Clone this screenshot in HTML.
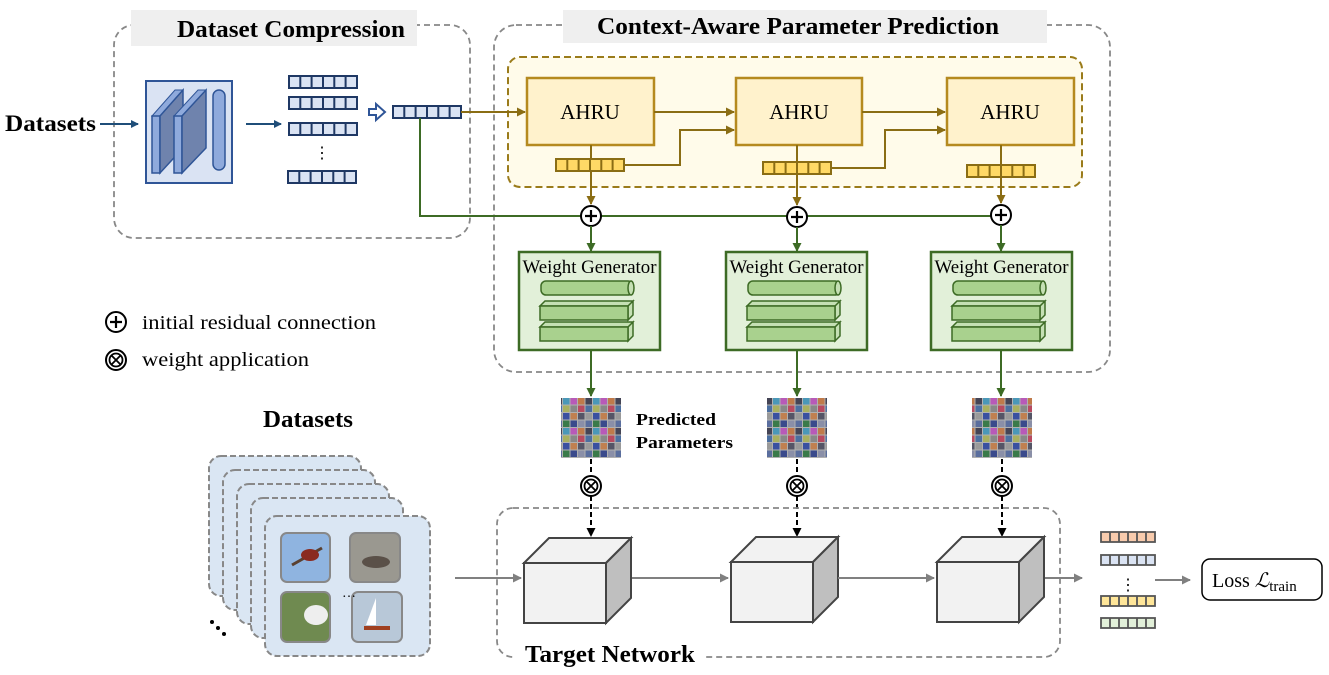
<!DOCTYPE html>
<html><head><meta charset="utf-8"><style>
body{margin:0;background:#fff}
svg{display:block;font-family:"Liberation Serif",serif}
</style></head><body>
<svg width="1329" height="675" viewBox="0 0 1329 675" xmlns="http://www.w3.org/2000/svg">
<defs>
<marker id="aB" markerWidth="8" markerHeight="8" refX="7" refY="4" orient="auto" markerUnits="userSpaceOnUse"><path d="M0,0 L8,4 L0,8 z" fill="#1f4e79"/></marker>
<marker id="aY" markerWidth="9" markerHeight="9" refX="8" refY="4.5" orient="auto" markerUnits="userSpaceOnUse"><path d="M0,0 L9,4.5 L0,9 z" fill="#8a6d14"/></marker>
<marker id="aG" markerWidth="9" markerHeight="9" refX="8" refY="4.5" orient="auto" markerUnits="userSpaceOnUse"><path d="M0,0 L9,4.5 L0,9 z" fill="#3d6b25"/></marker>
<marker id="aK" markerWidth="9" markerHeight="9" refX="8" refY="4.5" orient="auto" markerUnits="userSpaceOnUse"><path d="M0,0 L9,4.5 L0,9 z" fill="#000"/></marker>
<marker id="aGr" markerWidth="9" markerHeight="9" refX="8" refY="4.5" orient="auto" markerUnits="userSpaceOnUse"><path d="M0,0 L9,4.5 L0,9 z" fill="#808080"/></marker>
<pattern id="pp" width="30" height="30" patternUnits="userSpaceOnUse">
<rect width="30" height="30" fill="#b0b0b0"/>
<rect x="0.5" y="0.5" width="6.5" height="6.5" fill="#3a4a8c"/><rect x="8" y="0.5" width="6.5" height="6.5" fill="#8a8fa8"/><rect x="15.5" y="0.5" width="6.5" height="6.5" fill="#5a6e9e"/><rect x="23" y="0.5" width="6.5" height="6.5" fill="#3a7a4a"/>
<rect x="0.5" y="8" width="6.5" height="6.5" fill="#b85ab8"/><rect x="8" y="8" width="6.5" height="6.5" fill="#c07a4a"/><rect x="15.5" y="8" width="6.5" height="6.5" fill="#445"/><rect x="23" y="8" width="6.5" height="6.5" fill="#4a98b8"/>
<rect x="0.5" y="15.5" width="6.5" height="6.5" fill="#888"/><rect x="8" y="15.5" width="6.5" height="6.5" fill="#b84a60"/><rect x="15.5" y="15.5" width="6.5" height="6.5" fill="#4c6fa0"/><rect x="23" y="15.5" width="6.5" height="6.5" fill="#a8b060"/>
<rect x="0.5" y="23" width="6.5" height="6.5" fill="#c08050"/><rect x="8" y="23" width="6.5" height="6.5" fill="#556"/><rect x="15.5" y="23" width="6.5" height="6.5" fill="#9a9a9a"/><rect x="23" y="23" width="6.5" height="6.5" fill="#3a50a0"/>
</pattern>
<g id="vec"><rect x="0" y="0" width="68" height="12" fill="#dae3f3" stroke="#1f3864" stroke-width="2"/><path d="M11.3,0v12M22.6,0v12M34,0v12M45.3,0v12M56.6,0v12" stroke="#1f3864" stroke-width="2"/></g>
<g id="yvec"><rect x="0" y="0" width="68" height="12" fill="#ffd966" stroke="#8a6d14" stroke-width="2"/><path d="M11.3,0v12M22.6,0v12M34,0v12M45.3,0v12M56.6,0v12" stroke="#8a6d14" stroke-width="2"/></g>
<g id="wg">
<rect x="0" y="0" width="141" height="98" fill="#e2f0d9" stroke="#3d6b25" stroke-width="2.5"/>
<text x="70.5" y="21" font-size="18.5" text-anchor="middle" textLength="134" lengthAdjust="spacingAndGlyphs">Weight Generator</text>
<rect x="22" y="29" width="92" height="14" rx="5" fill="#a9d18e" stroke="#3d6b25" stroke-width="1.5"/><ellipse cx="112" cy="36" rx="3" ry="7" fill="#c5e0b4" stroke="#3d6b25" stroke-width="1.5"/>
<path d="M21,54 h88 l5,-5 h-88z M109,54 v14 l5,-5 v-14z" fill="#c5e0b4" stroke="#3d6b25" stroke-width="1.5"/><rect x="21" y="54" width="88" height="14" fill="#a9d18e" stroke="#3d6b25" stroke-width="1.5"/>
<path d="M21,75 h88 l5,-5 h-88z M109,75 v14 l5,-5 v-14z" fill="#c5e0b4" stroke="#3d6b25" stroke-width="1.5"/><rect x="21" y="75" width="88" height="14" fill="#a9d18e" stroke="#3d6b25" stroke-width="1.5"/>
</g>
<g id="cube"><path d="M0,25 L25,0 H107 L82,25z" fill="#f2f2f2" stroke="#444" stroke-width="2"/><path d="M82,25 L107,0 V60 L82,85z" fill="#bfbfbf" stroke="#444" stroke-width="2"/><rect x="0" y="25" width="82" height="60" fill="#f2f2f2" stroke="#444" stroke-width="2"/></g>
<g id="plus"><circle r="10" fill="#fff" stroke="#000" stroke-width="2"/><path d="M-6,0H6M0,-6V6" stroke="#000" stroke-width="2.2"/></g>
<g id="times"><circle r="10" fill="#fff" stroke="#000" stroke-width="2"/><circle r="6.5" fill="none" stroke="#000" stroke-width="1.8"/><path d="M-4.5,-4.5L4.5,4.5M4.5,-4.5L-4.5,4.5" stroke="#000" stroke-width="1.8"/></g>
<g id="ovec"><rect width="54" height="10" fill="var(--c)" stroke="#555" stroke-width="1.8"/><path d="M9,0v10M18,0v10M27,0v10M36,0v10M45,0v10" stroke="#555" stroke-width="1.8"/></g>
</defs>

<!-- Dataset Compression -->
<rect x="114" y="25" width="356" height="213" rx="20" fill="none" stroke="#888" stroke-width="1.8" stroke-dasharray="6,4"/>
<rect x="131" y="10" width="286" height="36" fill="#efefef"/>
<text x="291" y="37" font-size="24" font-weight="bold" text-anchor="middle" textLength="228" lengthAdjust="spacingAndGlyphs">Dataset Compression</text>
<text x="5" y="131" font-size="23" font-weight="bold" textLength="91" lengthAdjust="spacingAndGlyphs">Datasets</text>
<line x1="100" y1="124" x2="138" y2="124" stroke="#1f4e79" stroke-width="2" marker-end="url(#aB)"/>
<rect x="146" y="81" width="86" height="102" fill="#dae3f3" stroke="#2f5597" stroke-width="2"/>
<path d="M152,116 h8 l23,-26 h-8z" fill="#8faadc" stroke="#2f5597"/>
<rect x="152" y="116" width="8" height="57" fill="#8faadc" stroke="#2f5597" stroke-width="1.5"/>
<path d="M160,116 L183,90 V148 L160,173z" fill="#6f83ad" stroke="#2f5597" stroke-width="1.5"/>
<path d="M174,116 h8 l24,-26 h-8z" fill="#8faadc" stroke="#2f5597"/>
<rect x="174" y="116" width="8" height="57" fill="#8faadc" stroke="#2f5597" stroke-width="1.5"/>
<path d="M182,116 L206,90 V148 L182,173z" fill="#6f83ad" stroke="#2f5597" stroke-width="1.5"/>
<rect x="213" y="90" width="12" height="80" rx="6" fill="#8faadc" stroke="#2f5597" stroke-width="1.5"/>
<line x1="246" y1="124" x2="281" y2="124" stroke="#1f4e79" stroke-width="2" marker-end="url(#aB)"/>
<use href="#vec" x="289" y="76"/><use href="#vec" x="289" y="97"/><use href="#vec" x="289" y="123"/>
<text x="322" y="158" font-size="16" text-anchor="middle">⋮</text>
<use href="#vec" x="288" y="171"/>
<path d="M369,109 h7 v-5 l9,8 l-9,8 v-5 h-7z" fill="#fff" stroke="#2f5597" stroke-width="2"/>
<use href="#vec" x="393" y="106"/>

<!-- Context-aware -->
<rect x="494" y="25" width="616" height="347" rx="22" fill="none" stroke="#888" stroke-width="1.8" stroke-dasharray="6,4"/>
<rect x="563" y="10" width="484" height="33" fill="#efefef"/>
<text x="798" y="34" font-size="24" font-weight="bold" text-anchor="middle" textLength="402" lengthAdjust="spacingAndGlyphs">Context-Aware Parameter Prediction</text>
<rect x="508" y="57" width="574" height="130" rx="12" fill="#fffbea" stroke="#9a7b1a" stroke-width="2" stroke-dasharray="7,4"/>
<line x1="461" y1="112" x2="525" y2="112" stroke="#8a6d14" stroke-width="2" marker-end="url(#aY)"/>
<rect x="527" y="78" width="127" height="67" fill="#fff2cc" stroke="#b58a1f" stroke-width="2.5"/>
<rect x="736" y="78" width="126" height="67" fill="#fff2cc" stroke="#b58a1f" stroke-width="2.5"/>
<rect x="947" y="78" width="127" height="67" fill="#fff2cc" stroke="#b58a1f" stroke-width="2.5"/>
<text x="590" y="119" font-size="21" text-anchor="middle">AHRU</text>
<text x="799" y="119" font-size="21" text-anchor="middle">AHRU</text>
<text x="1010" y="119" font-size="21" text-anchor="middle">AHRU</text>
<g stroke="#8a6d14" stroke-width="2" fill="none">
<line x1="654" y1="112" x2="734" y2="112" marker-end="url(#aY)"/>
<line x1="862" y1="112" x2="945" y2="112" marker-end="url(#aY)"/>
<polyline points="624,165 680,165 680,130 734,130" marker-end="url(#aY)"/>
<polyline points="831,168 885,168 885,130 945,130" marker-end="url(#aY)"/>
<line x1="591" y1="145" x2="591" y2="204" marker-end="url(#aY)"/>
<line x1="797" y1="145" x2="797" y2="205" marker-end="url(#aY)"/>
<line x1="1001" y1="145" x2="1001" y2="203" marker-end="url(#aY)"/>
</g>
<use href="#yvec" x="556" y="159"/><use href="#yvec" x="763" y="162"/><use href="#yvec" x="967" y="165"/>
<polyline points="420,118 420,216 1001,216" fill="none" stroke="#3d6b25" stroke-width="2"/>
<use href="#plus" x="591" y="216"/><use href="#plus" x="797" y="217"/><use href="#plus" x="1001" y="215"/>
<g stroke="#3d6b25" stroke-width="2">
<line x1="591" y1="226" x2="591" y2="251" marker-end="url(#aG)"/>
<line x1="797" y1="227" x2="797" y2="251" marker-end="url(#aG)"/>
<line x1="1001" y1="225" x2="1001" y2="251" marker-end="url(#aG)"/>
<line x1="591" y1="350" x2="591" y2="396" marker-end="url(#aG)"/>
<line x1="797" y1="350" x2="797" y2="396" marker-end="url(#aG)"/>
<line x1="1001" y1="350" x2="1001" y2="396" marker-end="url(#aG)"/>
</g>
<use href="#wg" x="519" y="252"/><use href="#wg" x="726" y="252"/><use href="#wg" x="931" y="252"/>

<!-- legend -->
<use href="#plus" x="116" y="322"/><text x="142" y="329" font-size="20.5" textLength="234" lengthAdjust="spacingAndGlyphs">initial residual connection</text>
<use href="#times" x="116" y="360"/><text x="142" y="366" font-size="20.5" textLength="167" lengthAdjust="spacingAndGlyphs">weight application</text>

<!-- predicted params -->
<rect x="561" y="398" width="60" height="60" fill="url(#pp)"/>
<rect x="767" y="398" width="60" height="60" fill="url(#pp)"/>
<rect x="972" y="398" width="60" height="60" fill="url(#pp)"/>
<text x="636" y="425" font-size="17" font-weight="bold" textLength="80" lengthAdjust="spacingAndGlyphs">Predicted</text>
<text x="636" y="448" font-size="17" font-weight="bold" textLength="97" lengthAdjust="spacingAndGlyphs">Parameters</text>
<g stroke="#000" stroke-width="2" stroke-dasharray="5,3">
<line x1="591" y1="459" x2="591" y2="475"/><line x1="797" y1="459" x2="797" y2="475"/><line x1="1002" y1="459" x2="1002" y2="475"/>
<line x1="591" y1="496" x2="591" y2="536" marker-end="url(#aK)"/><line x1="797" y1="496" x2="797" y2="536" marker-end="url(#aK)"/><line x1="1002" y1="496" x2="1002" y2="536" marker-end="url(#aK)"/>
</g>
<use href="#times" x="591" y="486"/><use href="#times" x="797" y="486"/><use href="#times" x="1002" y="486"/>

<!-- target network -->
<rect x="497" y="508" width="563" height="149" rx="16" fill="none" stroke="#888" stroke-width="1.8" stroke-dasharray="6,4"/>
<rect x="515" y="640" width="190" height="30" fill="#fff"/>
<text x="525" y="662" font-size="24" font-weight="bold" textLength="170" lengthAdjust="spacingAndGlyphs">Target Network</text>
<use href="#cube" x="524" y="538"/><use href="#cube" x="731" y="537"/><use href="#cube" x="937" y="537"/>
<g stroke="#808080" stroke-width="2">
<line x1="455" y1="578" x2="521" y2="578" marker-end="url(#aGr)"/>
<line x1="632" y1="578" x2="728" y2="578" marker-end="url(#aGr)"/>
<line x1="838" y1="578" x2="934" y2="578" marker-end="url(#aGr)"/>
<line x1="1045" y1="578" x2="1082" y2="578" marker-end="url(#aGr)"/>
<line x1="1155" y1="580" x2="1190" y2="580" marker-end="url(#aGr)"/>
</g>
<use href="#ovec" x="1101" y="532" style="--c:#f8cbad"/>
<use href="#ovec" x="1101" y="555" style="--c:#dae3f3"/>
<text x="1128" y="590" font-size="16" text-anchor="middle">⋮</text>
<use href="#ovec" x="1101" y="596" style="--c:#ffe699"/>
<use href="#ovec" x="1101" y="618" style="--c:#e2f0d9"/>
<rect x="1202" y="559" width="120" height="41" rx="8" fill="#fff" stroke="#000" stroke-width="1.5"/>
<text x="1212" y="587" font-size="20">Loss <tspan font-style="italic">ℒ</tspan><tspan font-size="15" dy="4">train</tspan></text>

<!-- datasets lower -->
<text x="308" y="427" font-size="24" font-weight="bold" text-anchor="middle" textLength="90" lengthAdjust="spacingAndGlyphs">Datasets</text>
<g fill="#dae6f3" stroke="#888" stroke-width="2" stroke-dasharray="6,3">
<rect x="209" y="456" width="152" height="140" rx="12"/>
<rect x="223" y="470" width="152" height="140" rx="12"/>
<rect x="237" y="484" width="152" height="140" rx="12"/>
<rect x="251" y="498" width="152" height="140" rx="12"/>
<rect x="265" y="516" width="165" height="140" rx="12"/>
</g>
<g stroke="#888" stroke-width="2">
<rect x="281" y="533" width="49" height="49" rx="6" fill="#8fb4e0"/>
<rect x="350" y="533" width="50" height="49" rx="6" fill="#9a9890"/>
<rect x="281" y="592" width="49" height="50" rx="6" fill="#6f8a50"/>
<rect x="352" y="592" width="50" height="50" rx="6" fill="#b8c8d8"/>
</g>
<path d="M292,565 L322,548" stroke="#5a4030" stroke-width="3"/><ellipse cx="310" cy="555" rx="9" ry="6" fill="#8a2a20"/>
<ellipse cx="376" cy="562" rx="14" ry="6" fill="#5a5048"/><ellipse cx="316" cy="615" rx="12" ry="10" fill="#eee"/>
<path d="M376,598 L376,625 L366,625z" fill="#fff"/><rect x="364" y="626" width="26" height="4" fill="#a04020"/>
<text x="342" y="597" font-size="14">…</text>
<circle cx="212" cy="622" r="2" fill="#000"/><circle cx="218" cy="628" r="2" fill="#000"/><circle cx="224" cy="634" r="2" fill="#000"/>
</svg>
</body></html>
